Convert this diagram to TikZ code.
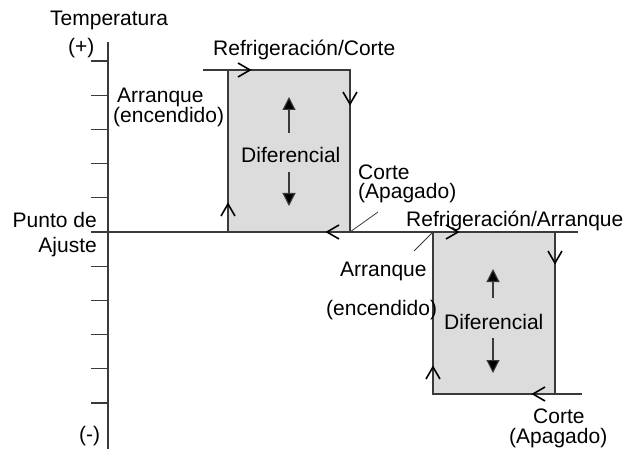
\documentclass[tikz,border=0pt]{standalone}
\usepackage{fontspec}
\setmainfont{Liberation Sans}
\usetikzlibrary{arrows.meta}
\definecolor{linegray}{HTML}{3A3A3A}
\definecolor{boxfill}{HTML}{DCDCDC}
\tikzset{
  ln/.style={draw=linegray, line width=1.2pt},
  chev/.style={draw=black, line width=1.6pt},
  chevron/.pic={\draw[chev] (-12,-7) -- (0,0) -- (-12,7);},
  lbl/.style={inner sep=0pt, anchor=base west, font=\fontsize{21}{24}\selectfont},
  lblr/.style={inner sep=0pt, anchor=base east, font=\fontsize{21}{24}\selectfont},
  diffarrow/.style={draw=linegray, line width=1.1pt, -{Triangle[length=13pt,width=13pt,fill=black]}},
}
\begin{document}
\begin{tikzpicture}[x=1pt,y=-1pt]
\useasboundingbox (0,0) rectangle (626,449);
% box corners
\coordinate (ua) at (228,70);
\coordinate (ub) at (350,70);
\coordinate (uc) at (350,232);
\coordinate (ud) at (228,232);
\coordinate (ustart) at (203,70);
\coordinate (la) at (433,232);
\coordinate (lb) at (555,232);
\coordinate (lc) at (555,394);
\coordinate (ld) at (433,394);
\coordinate (lend) at (582,394);
\coordinate (axtop) at (108,42);
\coordinate (axbot) at (108,449);
\coordinate (mid0) at (91,232);
\coordinate (mid1) at (578,232);
% fills
\fill[boxfill] (ua) rectangle (uc);
\fill[boxfill] (la) rectangle (lc);
% axis and ticks
\draw[ln] (axtop) -- (axbot);
\foreach \k in {-5,-4,-3,-2,-1,1,2,3,4,5}{
  \draw[ln] (91,232+34.2*\k) -- (108,232+34.2*\k);
}
\draw[ln] (mid0) -- (mid1);
% upper box
\draw[ln] (ud) -- (ua);
\draw[ln] (ustart) -- (ub) -- (uc);
% lower box
\draw[ln] (la) -- (ld) -- (lend);
\draw[ln] (lb) -- (lc);
% leader lines
\coordinate (cortetip) at (378,212);
\coordinate (arrtip) at (414,251);
\draw[ln, line width=0.8pt] (uc) -- (cortetip);
\draw[ln, line width=0.8pt] (la) -- (arrtip);
% chevrons
\pic at (250,70) {chevron};
\pic[rotate=-90] at (350,104) {chevron};
\pic[rotate=90] at (228,204) {chevron};
\pic[rotate=180] at (327,232) {chevron};
\pic at (458,232) {chevron};
\pic[rotate=-90] at (555,263) {chevron};
\pic[rotate=90] at (433,367) {chevron};
\pic[rotate=180] at (533,394) {chevron};
% differential arrows
\coordinate (u1) at (289,133); \coordinate (u2) at (289,97);
\coordinate (u3) at (289,172); \coordinate (u4) at (289,206);
\coordinate (l1) at (493,298); \coordinate (l2) at (493,269);
\coordinate (l3) at (493,338); \coordinate (l4) at (493,373);
\draw[diffarrow] (u1) -- (u2);
\draw[diffarrow] (u3) -- (u4);
\draw[diffarrow] (l1) -- (l2);
\draw[diffarrow] (l3) -- (l4);
% labels
\node[lbl] (temp) at (50,26) {Temperatura};
\node[lbl] (plus) at (68,54) {(+)};
\node[lbl] (minus) at (79,441) {(-)};
\node[lblr] (punto) at (97,227) {Punto de};
\node[lblr] (ajuste) at (97,252) {Ajuste};
\node[lbl] (refc) at (213,56) {Refrigeración/Corte};
\node[lbl] (arr1) at (117,103) {Arranque};
\node[lbl] (enc1) at (113,123) {(encendido)};
\node[lbl] (dif1) at (241,163) {Diferencial};
\node[lbl] (corte1) at (358,179) {Corte};
\node[lbl] (apa1) at (358,198) {(Apagado)};
\node[lbl] (refa) at (406,226) {Refrigeración/Arranque};
\node[lbl] (arr2) at (340,276) {Arranque};
\node[lbl] (enc2) at (326,315) {(encendido)};
\node[lbl] (dif2) at (444,329) {Diferencial};
\node[lbl] (corte2) at (533,423) {Corte};
\node[lbl] (apa2) at (509,443) {(Apagado)};
\end{tikzpicture}
\end{document}
